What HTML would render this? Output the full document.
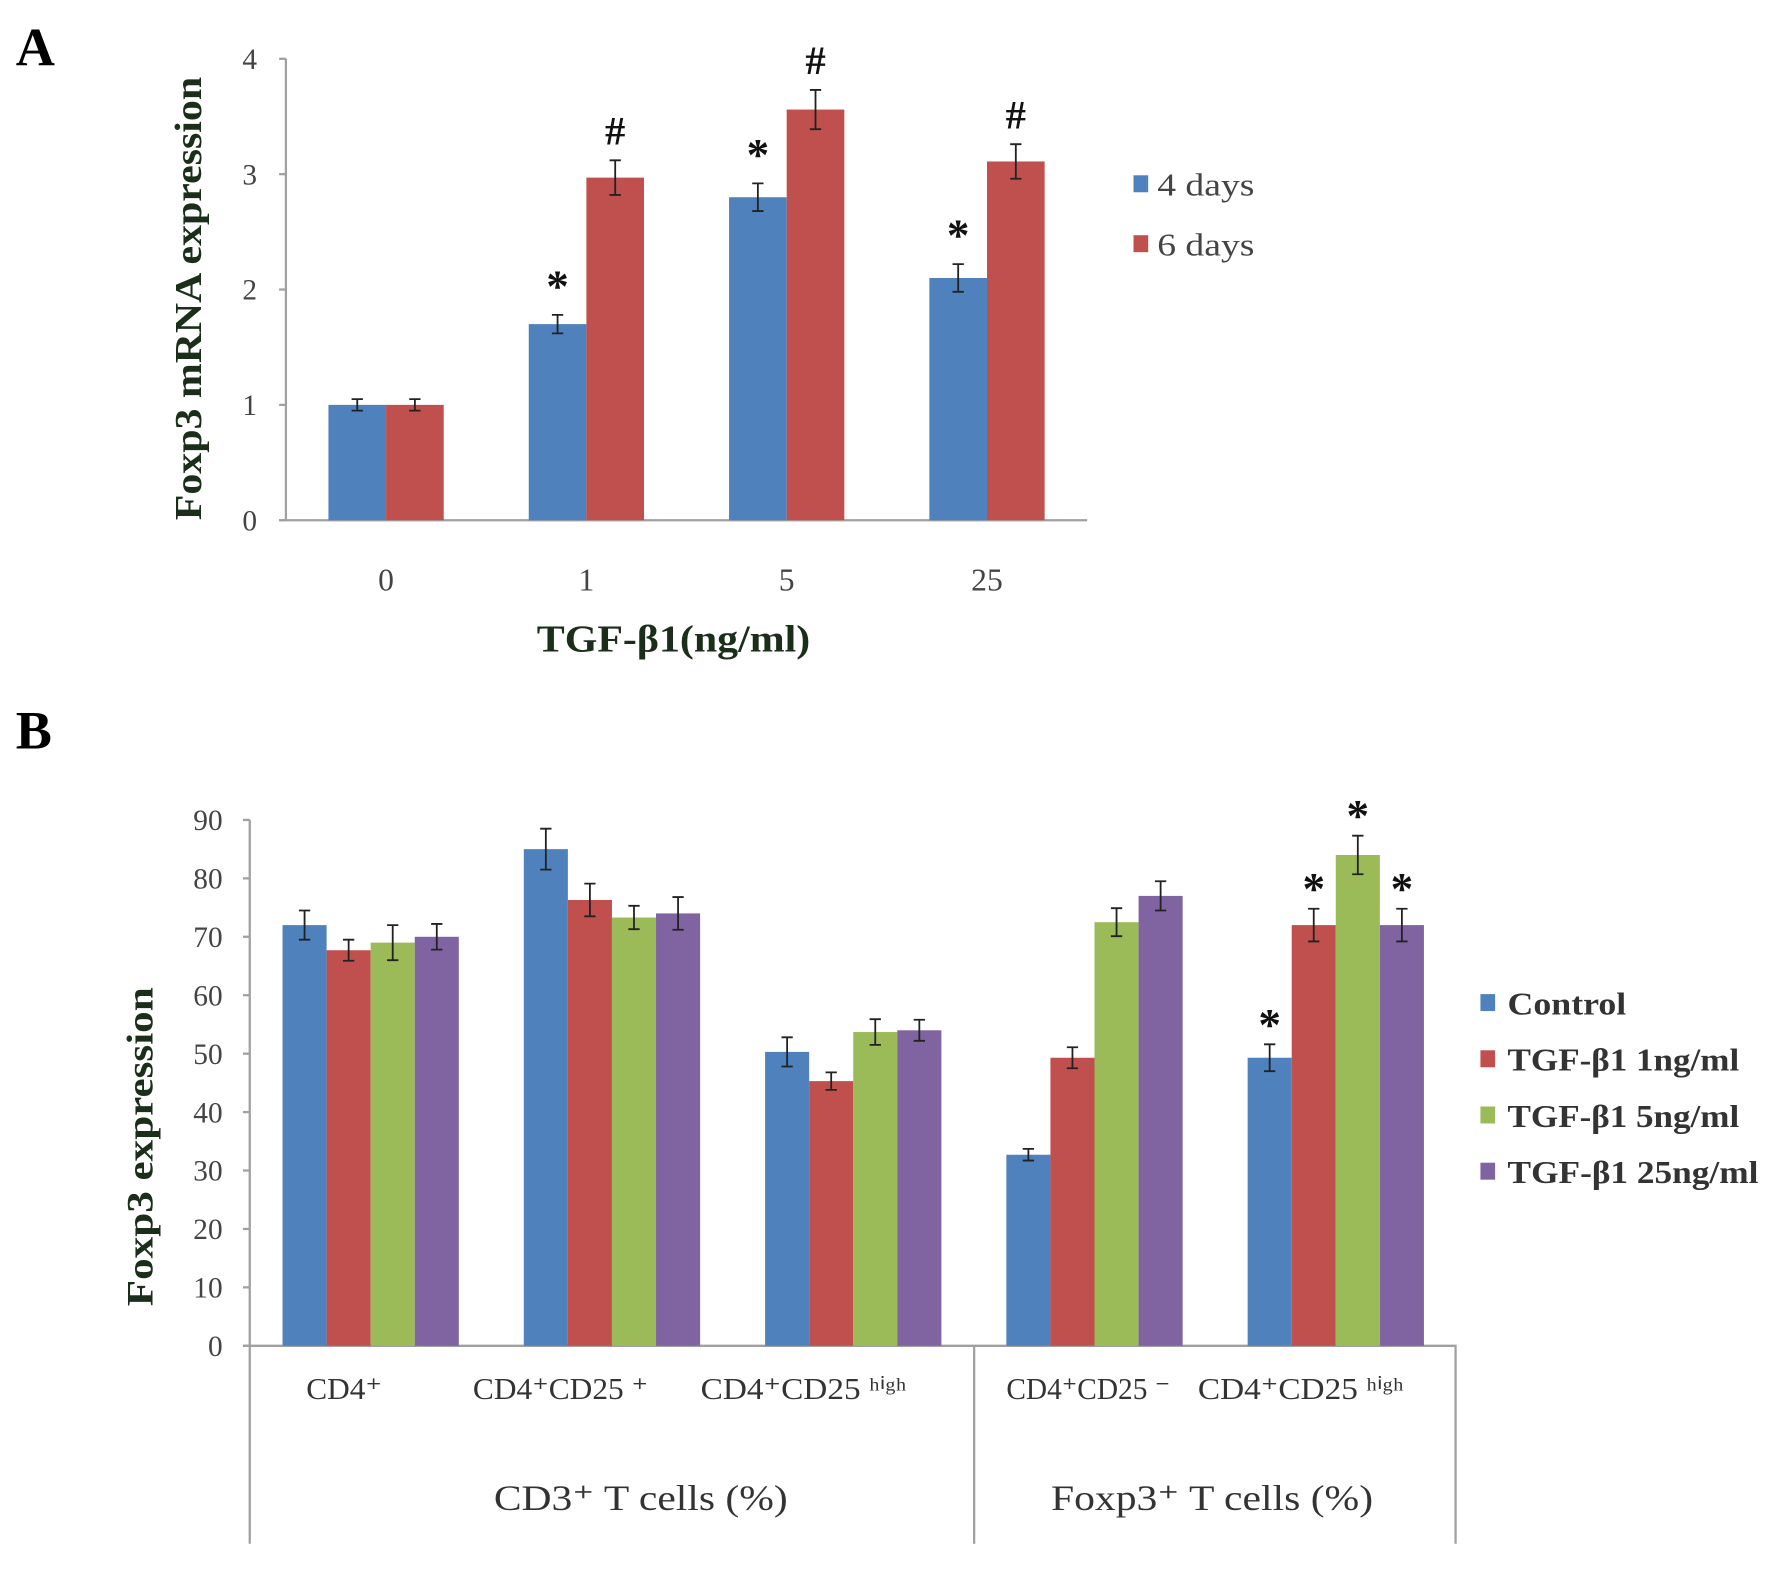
<!DOCTYPE html>
<html><head><meta charset="utf-8"><style>
html,body{margin:0;padding:0;background:#fff;width:1772px;height:1572px;overflow:hidden}
svg{display:block}
text{font-family:"Liberation Serif",serif}
</style></head><body>
<svg id="fig" width="1772" height="1572" viewBox="0 0 1568 1390" preserveAspectRatio="none" xmlns="http://www.w3.org/2000/svg">
<text x="14" y="58" font-size="48" font-weight="bold">A</text>
<text x="14" y="662" font-size="48" font-weight="bold">B</text>
<g id="chartA"></g>
<g id="chartB"></g>
</svg>
<script>
const aCategories=["0","1","5","25"];
const aSeries=["4 days","6 days"];
const a4=[1.0,1.7,2.8,2.1];
const a4err=[0.05,0.08,0.12,0.12];
const a6=[1.0,2.97,3.56,3.11];
const a6err=[0.05,0.15,0.17,0.15];
const aTicks=[0,1,2,3,4];
const aStars=[null,"*","*","*"];
const aHash=[null,"#","#","#"];

const bCategories=["CD4⁺","CD4⁺CD25 ⁺","CD4⁺CD25 ʰⁱᵍʰ","CD4⁺CD25 ⁻","CD4⁺CD25 ʰⁱᵍʰ"];
const bSeries=["Control","TGF-β1 1ng/ml","TGF-β1 5ng/ml","TGF-β1 25ng/ml"];
const bControl=[72,85,50.3,32.7,49.3];
const bControlErr=[2.5,3.5,2.5,1,2.3];
const b1=[67.7,76.3,45.3,49.3,72];
const b1Err=[1.8,2.8,1.5,1.8,2.8];
const b5=[69,73.3,53.7,72.5,84];
const b5Err=[3,2,2.2,2.4,3.3];
const b25=[70,74,54,77,72];
const b25Err=[2.2,2.8,1.8,2.5,2.8];
const bTicks=[0,10,20,30,40,50,60,70,80,90];
const bStarGroup=4;

// label layout (offset from group centre, rendered width)
const bLabelLayout=[[-57,67],[-123,155],[-135,182],[-78,145],[-122,182]];

const NS="http://www.w3.org/2000/svg";
function mk(parent,tag,attrs,txt){const e=document.createElementNS(NS,tag);for(const k in attrs)e.setAttribute(k,attrs[k]);if(txt!==undefined)e.textContent=txt;parent.appendChild(e);return e;}
function errbar(g,x,yTop,yBot,w){
  const e=mk(g,"path",{d:`M${x},${yTop}V${yBot}M${x-w},${yTop}H${x+w}M${x-w},${yBot}H${x+w}`,stroke:"#222","stroke-width":1.6,fill:"none"});
  
  
}
// ---------- Chart A ----------
(function(){
  const g=document.getElementById("chartA");
  const x0=253,x1=962,yBase=460,yTop=52,vmax=4;
  const y=v=>yBase-(v/vmax)*(yBase-yTop);
  const groupW=(x1-x0)/aCategories.length;
  const bw=51;
  const ax=mk(g,"path",{d:`M${x0},${yTop}V${yBase}M${x0-6},${yBase}H${x1}`,stroke:"#a0a0a0","stroke-width":2,fill:"none"});
  
  aTicks.forEach(t=>{
    const tl=mk(g,"path",{d:`M${x0-6},${y(t)}H${x0}`,stroke:"#a0a0a0","stroke-width":2});
    
    const tx=mk(g,"text",{x:x0-32,y:y(t)+9,"font-size":26,"text-anchor":"middle",fill:"#444"},String(t));
    
  });
  const cols=["#4f81bd","#c0504d"];
  const vals=[a4,a6],errs=[a4err,a6err];
  aCategories.forEach((c,i)=>{
    const center=x0+groupW*(i+0.5);
    vals.forEach((arr,s)=>{
      const bx=center-bw+s*bw;
      const r=mk(g,"rect",{x:bx,y:y(arr[i]),width:bw,height:yBase-y(arr[i]),fill:cols[s]});
      
      
      errbar(g,bx+bw/2,y(arr[i]+errs[s][i]),y(arr[i]-errs[s][i]),5);
    });
    if(aStars[i]){const st=mk(g,"text",{x:center-bw/2,y:y(a4[i]+a4err[i])-12,"font-size":40,"font-weight":"bold","text-anchor":"middle",fill:"#111"},aStars[i]);
      }
    if(aHash[i]){const st=mk(g,"text",{x:center+bw/2,y:y(a6[i]+a6err[i])-14,"font-size":36,"font-weight":"bold","text-anchor":"middle",fill:"#111"},aHash[i]);
      }
    const lt=mk(g,"text",{x:center,y:522,"font-size":28,"text-anchor":"middle",fill:"#444"},c);
    
  });
  const xt=mk(g,"text",{x:475,y:576,"font-size":34,"font-weight":"bold",fill:"#1a2e1a",textLength:242,lengthAdjust:"spacingAndGlyphs"},"TGF-β1(ng/ml)");
  
  const yt=mk(g,"text",{x:-460,y:0,transform:"translate(178,0) rotate(-90)","font-size":34,"font-weight":"bold",fill:"#1a2e1a",textLength:392,lengthAdjust:"spacingAndGlyphs"},"Foxp3 mRNA expression");
  
  aSeries.forEach((s,k)=>{
    const ly=163+k*53;
    const sq=mk(g,"rect",{x:1003,y:ly-8,width:13,height:15,fill:cols[k]});
    
    const t=mk(g,"text",{x:1024,y:ly+10,"font-size":28,fill:"#444",textLength:86,lengthAdjust:"spacingAndGlyphs"},s);
    
  });
})();
// ---------- Chart B ----------
(function(){
  const g=document.getElementById("chartB");
  const x0=221,x1=1288,yBase=1190,yTop=725,vmax=90;
  const y=v=>yBase-(v/vmax)*(yBase-yTop);
  const bw=39,gap=213.5,first=328;
  const ax=mk(g,"path",{d:`M${x0},${yTop}V1365M${x0-6},${yBase}H${x1}V1365M862,${yBase}V1365`,stroke:"#a0a0a0","stroke-width":2,fill:"none"});
  
  bTicks.forEach(t=>{
    const tl=mk(g,"path",{d:`M${x0-6},${y(t)}H${x0}`,stroke:"#a0a0a0","stroke-width":2});
    
    const tx=mk(g,"text",{x:x0-24,y:y(t)+9,"font-size":26,"text-anchor":"end",fill:"#444"},String(t));
    
  });
  const cols=["#4f81bd","#c0504d","#9bbb59","#8064a2"];
  const vals=[bControl,b1,b5,b25],errs=[bControlErr,b1Err,b5Err,b25Err];
  bCategories.forEach((c,i)=>{
    const center=first+i*gap;
    vals.forEach((arr,s)=>{
      const bx=center-2*bw+s*bw;
      const r=mk(g,"rect",{x:bx,y:y(arr[i]),width:bw,height:yBase-y(arr[i]),fill:cols[s]});
      
      
      errbar(g,bx+bw/2,y(arr[i]+errs[s][i]),y(arr[i]-errs[s][i]),5);
      if(i===bStarGroup){const st=mk(g,"text",{x:bx+bw/2,y:y(arr[i]+errs[s][i])-4,"font-size":40,"font-weight":"bold","text-anchor":"middle",fill:"#111"},"*");
        }
    });
    const lay=bLabelLayout[i];
    const lt=mk(g,"text",{x:center+lay[0],y:1237,"font-size":27,fill:"#333",textLength:lay[1],lengthAdjust:"spacingAndGlyphs"},c);
    
  });
  const g1=mk(g,"text",{x:437,y:1335,"font-size":32,fill:"#333",textLength:260,lengthAdjust:"spacingAndGlyphs"},"CD3⁺ T cells (%)");
  
  const g2=mk(g,"text",{x:930,y:1335,"font-size":32,fill:"#333",textLength:285,lengthAdjust:"spacingAndGlyphs"},"Foxp3⁺ T cells (%)");
  
  const yt=mk(g,"text",{x:-1155,y:0,transform:"translate(135,0) rotate(-90)","font-size":33,"font-weight":"bold",fill:"#1a2e1a",textLength:282,lengthAdjust:"spacingAndGlyphs"},"Foxp3  expression");
  
  const legW=[105,205,205,222];
  bSeries.forEach((s,k)=>{
    const ly=887+k*49.7;
    const sq=mk(g,"rect",{x:1310,y:ly-8,width:13,height:15,fill:cols[k]});
    
    const t=mk(g,"text",{x:1334,y:ly+10,"font-size":28,"font-weight":"bold",fill:"#333",textLength:legW[k],lengthAdjust:"spacingAndGlyphs"},s);
    
  });
})();
</script>
</body></html>
